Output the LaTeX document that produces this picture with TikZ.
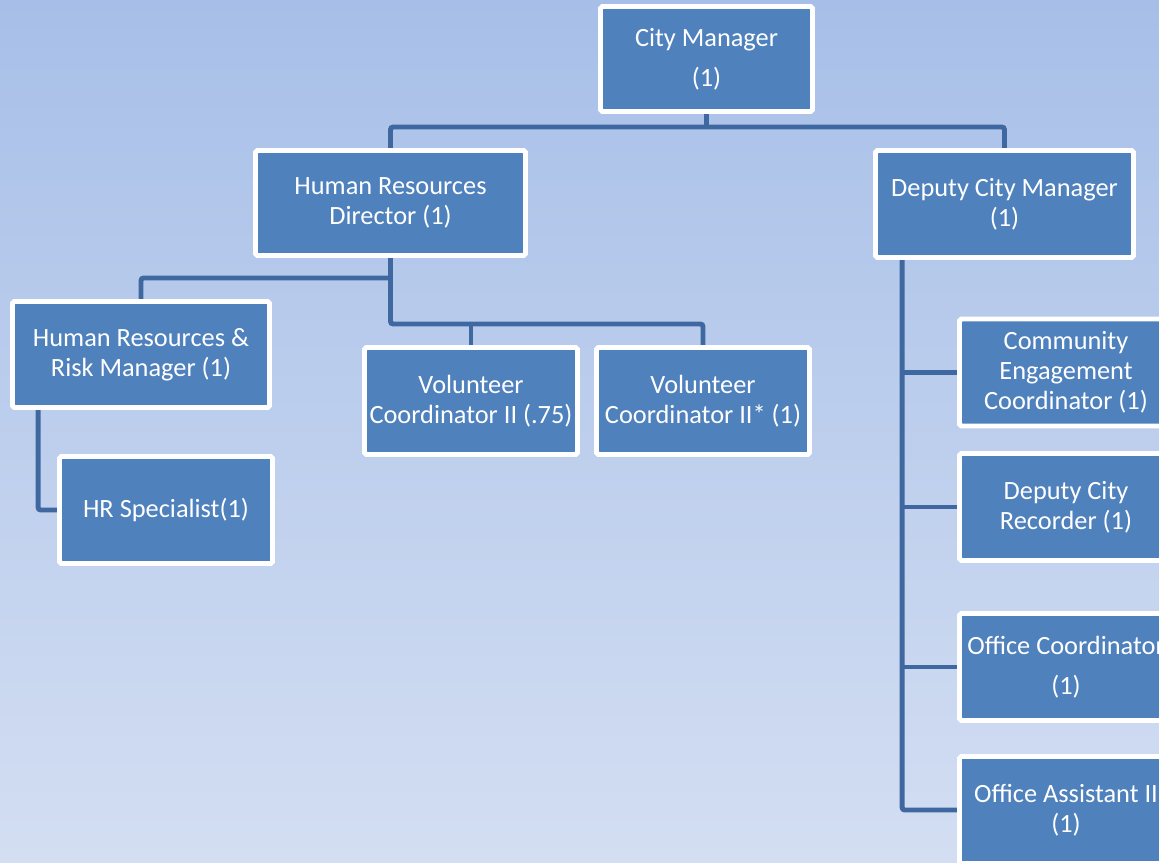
\documentclass[tikz,border=0pt]{standalone}
\usepackage{fontspec}
\setmainfont{Carlito}
\definecolor{boxblue}{HTML}{4F81BD}
\definecolor{linkblue}{HTML}{4068A0}
\definecolor{bgtop}{HTML}{A7BFE8}
\definecolor{bgbottom}{HTML}{D3DEF2}
\pgfdeclarelayer{background}
\pgfsetlayers{background,main}

\begin{document}
\begin{tikzpicture}[
    x=0.02cm, y=-0.02cm,
    box/.style={rectangle, draw=white, line width=2.8pt, fill=boxblue, rounded corners=1pt, text=white, align=center, inner sep=1pt, font=\fontsize{15}{17}\selectfont, minimum width=4.26cm, minimum height=2.14cm},
    link/.style={draw=linkblue, line width=2.8pt, rounded corners=1.5pt}
]
    \useasboundingbox (0,0) rectangle (1159,862);
    \clip (0,0) rectangle (1159,862);

    \node[box, minimum width=4.24cm, minimum height=2.1cm] (cm) at (706.5,59) {City Manager\\[6pt](1)};
    \node[box, minimum width=5.4cm, minimum height=2.1cm] (hrd) at (390.5,203) {Human Resources\\Director (1)};
    \node[box, minimum width=5.16cm] (dcm) at (1004.5,204) {Deputy City Manager\\(1)};
    \node[box, minimum width=5.14cm, minimum height=2.12cm] (hrrm) at (141,354.5) {Human Resources \&\\Risk Manager (1)};
    \node[box] (hrs) at (166,510) {HR Specialist(1)};
    \node[box] (vc1) at (471,401) {Volunteer\\Coordinator II (.75)};
    \node[box] (vc2) at (703,401) {Volunteer\\Coordinator II* (1)};
    \node[box] (ce) at (1066,372.5) {Community\\Engagement\\Coordinator (1)};
    \node[box] (dcr) at (1066,507) {Deputy City\\Recorder (1)};
    \node[box] (oc) at (1066,667) {Office Coordinator\\[6pt](1)};
    \node[box] (oa) at (1066,810) {Office Assistant II\\(1)};

    \coordinate (bus1) at (0,127);
    \coordinate (bus2) at (0,278);
    \coordinate (bus3) at (0,324);
    \path (hrrm.south west) ++(28,0) coordinate (hrtrunk);
    \path (dcm.south west) ++(29,0) coordinate (trunk);

    \begin{pgfonlayer}{background}
    \shade[top color=bgtop, bottom color=bgbottom] (0,0) rectangle (1159,862);
    % top level
    \draw[link] (cm.south) -- (cm.south |- bus1);
    \draw[link] (hrd.north) |- (dcm.north |- bus1) -- (dcm.north);
    % human resources
    \draw[link] (hrrm.north) |- (hrd.south |- bus2);
    \draw[link] (hrd.south) |- (vc2.north |- bus3) -- (vc2.north);
    \draw[link] (vc1.north) -- (vc1.north |- bus3);
    \draw[link] (hrtrunk) |- (hrs.west);
    % deputy city manager
    \draw[link] (trunk) |- (oa.west);
    \foreach \b in {ce,dcr,oc}
        \draw[link] (trunk |- \b.west) -- (\b.west);
    \end{pgfonlayer}
\end{tikzpicture}
\end{document}
